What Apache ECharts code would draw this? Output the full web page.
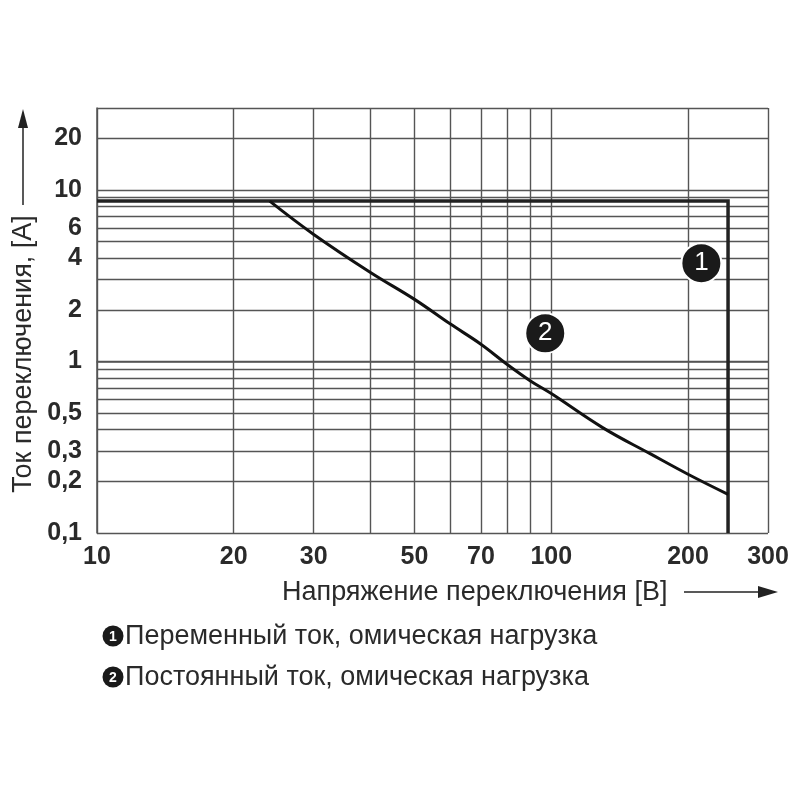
<!DOCTYPE html>
<html>
<head>
<meta charset="utf-8">
<script src="https://cdn.jsdelivr.net/npm/echarts@6/dist/echarts.min.js"></script>
<style>
  html, body { margin: 0; padding: 0; background: #fff; }
  #chart { width: 800px; height: 800px; }
</style>
</head>
<body>
<div id="chart"></div>
<script>
// switching voltage [V] / switching current [A]
const acVoltage = [10, 245, 245];
const acCurrent = [8.6, 8.6, 0.1];

const dcVoltage = [24, 30, 40, 50, 60, 70, 80, 90, 100, 130, 165, 200, 245];
const dcCurrent = [8.6, 5.5, 3.3, 2.3, 1.65, 1.26, 0.96, 0.77, 0.65, 0.41, 0.29, 0.22, 0.168];

// numbered circles on the plot
const markerNames = ['1', '2'];
const markerVoltage = [214, 97];
const markerCurrent = [3.74, 1.46];

// grid lines and tick labels
const xGrid = [10, 20, 30, 40, 50, 60, 70, 80, 90, 100, 200, 300];
const xLabels = [10, 20, 30, 50, 70, 100, 200, 300];
const yGrid = [0.1, 0.2, 0.3, 0.4, 0.5, 0.6, 0.7, 0.8, 0.9, 1, 2, 3, 4, 5, 6, 7, 8, 9, 10, 20, 30];
const yLabels = [0.1, 0.2, 0.3, 0.5, 1, 2, 4, 6, 10, 20];

const legendItems = ['Переменный ток, омическая нагрузка', 'Постоянный ток, омическая нагрузка'];

const FONT = '"Liberation Sans", Arial, sans-serif';
const lg = Math.log10;

function pairs(xs, ys) {
  return xs.map((x, i) => [lg(x), lg(ys[i])]);
}

function fmt(v) {
  const n = +Math.pow(10, v).toPrecision(2);
  return String(n).replace('.', ',');
}

function axis(min, max, grid, labels) {
  return {
    type: 'value',
    min: lg(min),
    max: lg(max),
    axisLine: { show: true, lineStyle: { color: '#555', width: 1.5 } },
    axisTick: { show: false, customValues: grid.map(lg) },
    splitLine: { show: true, lineStyle: { color: '#555', width: 1.4 } },
    axisLabel: {
      customValues: labels.map(lg),
      formatter: fmt,
      fontFamily: FONT,
      fontWeight: 'bold',
      fontSize: 25,
      color: '#2a2a2a'
    }
  };
}

const chart = echarts.init(document.getElementById('chart'));

const xAxis = axis(10, 300, xGrid, xLabels);
xAxis.axisLabel.margin = 12;
const yAxis = axis(0.1, 30, yGrid, yLabels);
yAxis.axisLabel.margin = 15;

let graphic = [
  // y axis title + arrow
  {
    type: 'text', x: 24, y: 354, rotation: Math.PI / 2,
    style: { text: 'Ток переключения, [A]', font: '27px ' + FONT, fill: '#2a2a2a', align: 'center', verticalAlign: 'middle' }
  },
  { type: 'line', shape: { x1: 23, y1: 205, x2: 23, y2: 125 }, style: { stroke: '#222', lineWidth: 1.5 } },
  { type: 'polygon', shape: { points: [[23, 109], [18, 128], [28, 128]] }, style: { fill: '#222' } },
  // x axis title + arrow
  {
    type: 'text', x: 282, y: 593,
    style: { text: 'Напряжение переключения [B]', font: '27px ' + FONT, fill: '#2a2a2a', align: 'left', verticalAlign: 'middle' }
  },
  { type: 'line', shape: { x1: 684, y1: 592, x2: 762, y2: 592 }, style: { stroke: '#222', lineWidth: 1.5 } },
  { type: 'polygon', shape: { points: [[778, 592], [758, 586], [758, 598]] }, style: { fill: '#222' } }
];

// legend below the chart
legendItems.forEach((txt, i) => {
  const y = 636 + i * 41;
  graphic.push(
    { type: 'circle', shape: { cx: 113, cy: y, r: 10.5 }, style: { fill: '#1a1a1a' } },
    { type: 'text', x: 113, y: y + 1, style: { text: String(i + 1), font: 'bold 14px ' + FONT, fill: '#fff', align: 'center', verticalAlign: 'middle' } },
    { type: 'text', x: 125, y: y + 1, style: { text: txt, font: '27px ' + FONT, fill: '#2a2a2a', align: 'left', verticalAlign: 'middle' } }
  );
});

chart.setOption({
  animation: false,
  backgroundColor: '#fff',
  grid: { left: 97, right: 32, top: 108, bottom: 267 },
  xAxis: xAxis,
  yAxis: yAxis,
  series: [
    {
      name: 'AC',
      type: 'line',
      data: pairs(acVoltage, acCurrent),
      showSymbol: false,
      lineStyle: { color: '#222', width: 3.5, join: 'miter' },
      z: 3
    },
    {
      name: 'DC',
      type: 'line',
      smooth: 0.4,
      data: pairs(dcVoltage, dcCurrent),
      showSymbol: false,
      lineStyle: { color: '#111', width: 3 },
      z: 3
    },
    {
      type: 'scatter',
      data: markerNames.map((n, i) => ({ name: n, value: [lg(markerVoltage[i]), lg(markerCurrent[i])] })),
      symbolSize: 40,
      itemStyle: { color: '#1a1a1a', borderColor: '#fff', borderWidth: 2, opacity: 1 },
      label: { show: true, position: 'inside', formatter: '{b}', color: '#fff', fontSize: 26, fontFamily: FONT },
      z: 4
    }
  ],
  graphic: graphic
});
</script>
</body>
</html>
